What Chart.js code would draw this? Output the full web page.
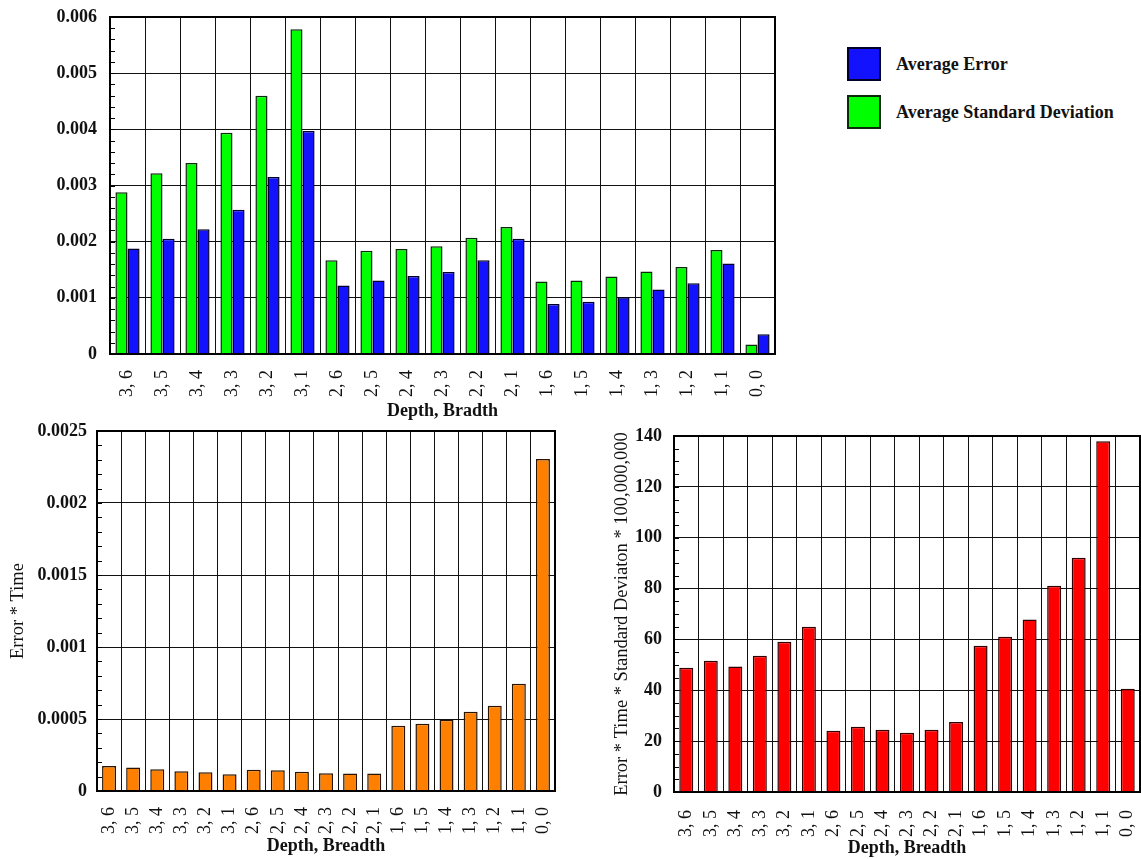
<!DOCTYPE html>
<html>
<head>
<meta charset="utf-8">
<script src="https://cdn.jsdelivr.net/npm/chart.js@4.4.1/dist/chart.umd.min.js"></script>
<style>
  html, body { margin: 0; padding: 0; background: #fff; width: 1141px; height: 859px; overflow: hidden; }
  .box { position: absolute; }
  #legend { position: absolute; left: 847px; top: 47px; font: bold 18px "Liberation Serif", serif; color: #111; }
  .item { display: flex; align-items: center; height: 34px; margin-bottom: 14px; }
  .sw { width: 30px; height: 30px; border: 2px solid #000; margin-right: 15px; }
</style>
</head>
<body>
<div class="box" style="left:0;top:0;width:800px;height:422px"><canvas id="topChart"></canvas></div>
<div id="legend"></div>
<div class="box" style="left:0;top:415px;width:580px;height:444px"><canvas id="errTimeChart"></canvas></div>
<div class="box" style="left:590px;top:415px;width:551px;height:444px"><canvas id="errTimeStdChart"></canvas></div>

<script>
// Depth, breadth combinations
const categories = ['3, 6','3, 5','3, 4','3, 3','3, 2','3, 1','2, 6','2, 5','2, 4','2, 3','2, 2','2, 1','1, 6','1, 5','1, 4','1, 3','1, 2','1, 1','0, 0'];

const avgStdDev = [0.00288,0.00322,0.00340,0.00394,0.00460,0.00578,0.00167,0.00184,0.00187,0.00192,0.00207,0.00226,0.00129,0.00131,0.00138,0.00147,0.00155,0.00185,0.00017];
const avgError  = [0.00188,0.00205,0.00222,0.00257,0.00315,0.00397,0.00122,0.00131,0.00139,0.00146,0.00167,0.00205,0.00089,0.00093,0.00101,0.00115,0.00126,0.00161,0.00035];
const errorTime = [0.000174,0.000164,0.000151,0.000137,0.000130,0.000116,0.000148,0.000144,0.000134,0.000123,0.000122,0.000122,0.000453,0.000467,0.000495,0.000551,0.000592,0.000745,0.002306];
const errorTimeStd = [48.9,51.6,49.4,53.6,59.1,65.0,24.1,25.7,24.5,23.3,24.5,27.5,57.5,61.1,67.8,81.1,92.1,137.9,40.6];

const topYLabels = ['0','0.001','0.002','0.003','0.004','0.005','0.006'];
const errTimeYLabels = ['0','0.0005','0.001','0.0015','0.002','0.0025'];
const errTimeStdYLabels = ['0','20','40','60','80','100','120','140'];

Chart.defaults.font.family = '"Liberation Serif", "Times New Roman", serif';
Chart.defaults.font.size = 18;
Chart.defaults.color = '#111';

// Inside minor ticks on the value axis and a heavy frame around the plot
const framePlugin = {
  id: 'frame',
  beforeDatasetsDraw(chart, args, opts) {
    const { ctx, chartArea: a, scales: { y } } = chart;
    const step = opts.minorStep;
    if (!step) return;
    ctx.save();
    ctx.strokeStyle = '#000';
    ctx.lineWidth = 1;
    const n = Math.round((y.max - y.min) / step);
    for (let i = 1; i < n; i++) {
      const py = Math.round(y.getPixelForValue(y.min + i * step)) + 0.5;
      ctx.beginPath();
      ctx.moveTo(a.left, py);
      ctx.lineTo(a.left + 5, py);
      ctx.stroke();
    }
    ctx.restore();
  },
  afterDatasetsDraw(chart) {
    const { ctx, chartArea: a } = chart;
    ctx.save();
    ctx.strokeStyle = '#000';
    ctx.lineWidth = 2;
    ctx.strokeRect(a.left, a.top, a.right - a.left, a.bottom - a.top);
    ctx.restore();
  }
};

function makeOptions(cfg) {
  return {
    responsive: true,
    maintainAspectRatio: false,
    animation: false,
    layout: { padding: cfg.padding },
    plugins: {
      legend: { display: false },
      tooltip: { enabled: false },
      frame: { minorStep: cfg.minorStep }
    },
    scales: {
      x: {
        offset: true,
        grid: { display: true, offset: true, color: '#111', lineWidth: 1, drawTicks: false },
        border: { display: true, color: '#000', width: 2 },
        ticks: { autoSkip: false, minRotation: 90, maxRotation: 90, padding: cfg.xTickPad, font: { size: 18 }, color: '#111' },
        title: { display: true, text: cfg.xTitle, padding: 0, font: { size: 18, weight: 'bold' }, color: '#111' },
        afterFit: (s) => { s.height = cfg.xHeight; s.paddingLeft = 0; s.paddingRight = 0; }
      },
      y: {
        min: 0,
        max: cfg.yMax,
        grid: { color: '#111', lineWidth: 1, drawTicks: false },
        border: { display: true, color: '#000', width: 2 },
        ticks: {
          stepSize: cfg.yStep,
          padding: cfg.yTickPad,
          font: { size: 18, weight: 'bold' },
          color: '#111',
          callback: (v, i) => cfg.yLabels[i]
        },
        title: cfg.yTitle ? { display: true, text: cfg.yTitle, padding: 0, font: { size: 18.5 }, color: '#111' } : { display: false },
        afterFit: (s) => { s.width = cfg.yWidth; s.paddingTop = 0; s.paddingBottom = 0; }
      }
    }
  };
}

const topChart = new Chart(document.getElementById('topChart'), {
  type: 'bar',
  data: {
    labels: categories,
    datasets: [
      { label: 'Average Standard Deviation', data: avgStdDev, backgroundColor: '#00ff00', borderColor: '#0a2a0a', borderWidth: 1.5, categoryPercentage: 0.69, barPercentage: 1 },
      { label: 'Average Error', data: avgError, backgroundColor: '#1212ff', borderColor: '#00002a', borderWidth: 1.5, categoryPercentage: 0.69, barPercentage: 1 }
    ]
  },
  options: makeOptions({
    padding: { top: 17, right: 25, left: 0, bottom: 0 },
    yMax: 0.006, yStep: 0.001, minorStep: 0.0002, yLabels: topYLabels,
    yWidth: 110, yTickPad: 13, xHeight: 68, xTickPad: 16,
    xTitle: 'Depth, Bradth'
  }),
  plugins: [framePlugin]
});

// Legend listing the series, error first
const legendEl = document.getElementById('legend');
topChart.data.datasets.slice().reverse().forEach(ds => {
  const item = document.createElement('div');
  item.className = 'item';
  const sw = document.createElement('div');
  sw.className = 'sw';
  sw.style.background = ds.backgroundColor;
  sw.style.borderColor = ds.borderColor;
  const tx = document.createElement('span');
  tx.textContent = ds.label;
  item.appendChild(sw);
  item.appendChild(tx);
  legendEl.appendChild(item);
});

new Chart(document.getElementById('errTimeChart'), {
  type: 'bar',
  data: {
    labels: categories,
    datasets: [
      { label: 'Error * Time', data: errorTime, backgroundColor: '#ff8000', borderColor: '#2a1400', borderWidth: 1.5, categoryPercentage: 0.58, barPercentage: 1 }
    ]
  },
  options: makeOptions({
    padding: { top: 16, right: 25, left: 7, bottom: 2 },
    yMax: 0.0025, yStep: 0.0005, minorStep: 0.0001, yLabels: errTimeYLabels,
    yWidth: 90, yTickPad: 10, xHeight: 66, xTickPad: 16,
    xTitle: 'Depth, Breadth', yTitle: 'Error * Time'
  }),
  plugins: [framePlugin]
});

new Chart(document.getElementById('errTimeStdChart'), {
  type: 'bar',
  data: {
    labels: categories,
    datasets: [
      { label: 'Error * Time * Standard Deviaton * 100,000,000', data: errorTimeStd, backgroundColor: '#ff0000', borderColor: '#300000', borderWidth: 1.5, categoryPercentage: 0.57, barPercentage: 1 }
    ]
  },
  options: makeOptions({
    padding: { top: 21, right: 1, left: 21, bottom: 0 },
    yMax: 140, yStep: 20, minorStep: 5, yLabels: errTimeStdYLabels,
    yWidth: 63, yTickPad: 12, xHeight: 67, xTickPad: 18,
    xTitle: 'Depth, Breadth', yTitle: 'Error * Time * Standard Deviaton * 100,000,000'
  }),
  plugins: [framePlugin]
});
</script>
</body>
</html>
